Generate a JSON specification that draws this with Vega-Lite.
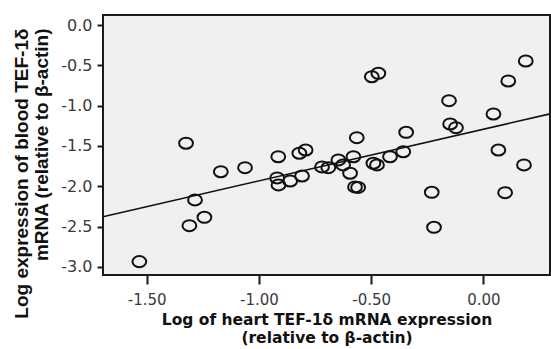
{
  "$schema": "https://vega.github.io/schema/vega-lite/v6.json",
  "width": 447,
  "height": 260,
  "autosize": "none",
  "padding": {"left": 103, "top": 15, "right": 1, "bottom": 74},
  "background": "white",
  "config": {
    "view": {"fill": "#f0f0f0", "stroke": "#1a1a1a", "strokeWidth": 2},
    "axis": {"grid": false, "domain": false, "tickColor": "#1a1a1a", "tickWidth": 2,
      "labelFont": "DejaVu Sans", "labelFontSize": 15, "labelColor": "#3a3a3a",
      "titleFont": "DejaVu Sans", "titleFontWeight": "bold", "titleColor": "#111"}
  },
  "data": {"values": [
    {"x": -1.533, "y": -2.934},
    {"x": -1.325, "y": -1.466},
    {"x": -1.310, "y": -2.488},
    {"x": -1.285, "y": -2.169},
    {"x": -1.243, "y": -2.384},
    {"x": -1.170, "y": -1.819},
    {"x": -1.062, "y": -1.769},
    {"x": -0.914, "y": -1.633},
    {"x": -0.820, "y": -1.590},
    {"x": -0.792, "y": -1.550},
    {"x": -0.919, "y": -1.897},
    {"x": -0.913, "y": -1.983},
    {"x": -0.861, "y": -1.934},
    {"x": -0.808, "y": -1.872},
    {"x": -0.719, "y": -1.760},
    {"x": -0.691, "y": -1.769},
    {"x": -0.646, "y": -1.673},
    {"x": -0.625, "y": -1.735},
    {"x": -0.579, "y": -1.633},
    {"x": -0.594, "y": -1.838},
    {"x": -0.572, "y": -2.008},
    {"x": -0.558, "y": -2.014},
    {"x": -0.564, "y": -1.397},
    {"x": -0.497, "y": -0.641},
    {"x": -0.468, "y": -0.599},
    {"x": -0.490, "y": -1.714},
    {"x": -0.474, "y": -1.735},
    {"x": -0.416, "y": -1.633},
    {"x": -0.357, "y": -1.571},
    {"x": -0.344, "y": -1.330},
    {"x": -0.230, "y": -2.074},
    {"x": -0.220, "y": -2.508},
    {"x": -0.153, "y": -0.938},
    {"x": -0.148, "y": -1.227},
    {"x": -0.122, "y": -1.273},
    {"x": 0.045, "y": -1.103},
    {"x": 0.067, "y": -1.550},
    {"x": 0.097, "y": -2.079},
    {"x": 0.111, "y": -0.694},
    {"x": 0.181, "y": -1.735},
    {"x": 0.189, "y": -0.446}
  ]},
  "encoding": {
    "x": {"field": "x", "type": "quantitative",
      "scale": {"domain": [-1.695, 0.297], "nice": false, "zero": false},
      "axis": {"values": [-1.5, -1, -0.5, 0], "format": ".2f",
        "labelExpr": "replace(datum.label, '\u2212', '-')",
        "tickSize": 9, "labelPadding": 8,
        "title": ["Log of heart TEF-1\u03b4 mRNA expression", "(relative to \u03b2-actin)"],
        "titleFontSize": 15.5, "titleLineHeight": 18, "titlePadding": 5}},
    "y": {"field": "y", "type": "quantitative",
      "scale": {"domain": [-3.1, 0.124], "nice": false, "zero": false},
      "axis": {"values": [-3, -2.5, -2, -1.5, -1, -0.5, 0], "format": ".1f",
        "labelExpr": "replace(datum.label, '\u2212', '-')",
        "tickSize": 6, "labelPadding": 5, "labelFontSize": 16,
        "title": ["Log expression of blood TEF-1\u03b4", "mRNA (relative to \u03b2-actin)"],
        "titleFontSize": 19, "titleFont": "Liberation Sans", "titleLineHeight": 20,
        "titleAlign": "right", "titleBaseline": "alphabetic", "titleX": -76, "titleY": 13}}
  },
  "layer": [
    {"mark": {"type": "point", "shape": "M -1.15 0 A 1.15 0.92 0 1 0 1.15 0 A 1.15 0.92 0 1 0 -1.15 0 Z",
      "size": 144, "filled": false, "stroke": "#111", "strokeWidth": 2, "opacity": 1}},
    {"transform": [{"regression": "y", "on": "x", "extent": [-1.695, 0.297]}],
      "mark": {"type": "line", "color": "#111", "strokeWidth": 1.6}}
  ]
}
